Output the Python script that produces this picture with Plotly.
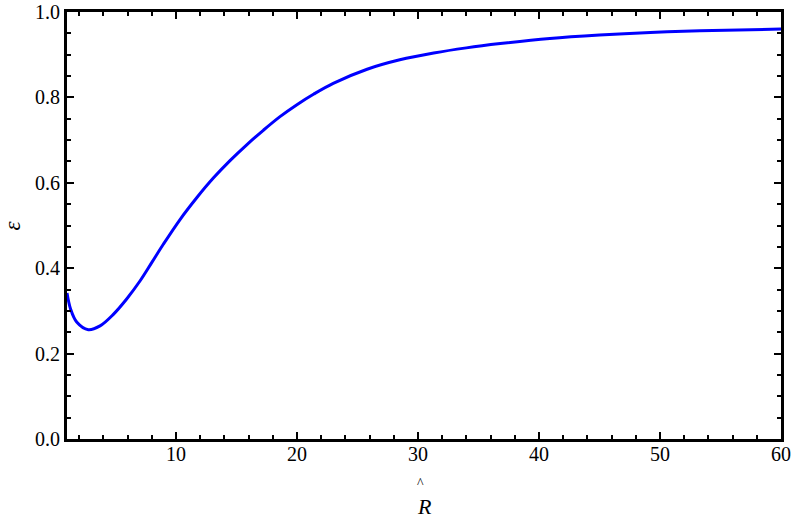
import plotly.graph_objects as go

# Data
r_hat = [1, 1.3, 1.8, 2.76, 3.73, 4.83, 5.93, 7.03, 8.0, 8.96, 10.34, 11.72,
         13.09, 14.47, 15.85, 17.22, 18.6, 20, 21.4, 23, 25.8, 28.5, 31.3, 34,
         36.8, 40.9, 45, 49.2, 53.3, 60]
epsilon = [0.342, 0.304, 0.274, 0.256, 0.265, 0.292, 0.328, 0.370, 0.413,
           0.456, 0.514, 0.565, 0.611, 0.652, 0.689, 0.723, 0.755, 0.783,
           0.808, 0.833, 0.866, 0.888, 0.904, 0.916, 0.926, 0.938, 0.946,
           0.952, 0.956, 0.960]

x_ticks = [10, 20, 30, 40, 50, 60]
y_ticks = [0.0, 0.2, 0.4, 0.6, 0.8, 1.0]
y_tick_labels = ["0.0", "0.2", "0.4", "0.6", "0.8", "1.0"]

font_family = "Liberation Serif"

fig = go.Figure()
fig.add_trace(go.Scatter(
    x=r_hat, y=epsilon, mode="lines",
    line=dict(color="#0000ff", width=3, shape="spline", smoothing=1.0),
    showlegend=False, hoverinfo="x+y",
))
# invisible copy on the mirrored axes so their ticks are drawn
fig.add_trace(go.Scatter(
    x=r_hat, y=epsilon, mode="lines", xaxis="x2", yaxis="y2",
    line=dict(color="rgba(0,0,0,0)", width=0),
    showlegend=False, hoverinfo="skip",
))

tick_common = dict(
    showline=True, linecolor="black", linewidth=3,
    ticks="inside", ticklen=7, tickwidth=2, tickcolor="black",
    showgrid=False, zeroline=False, automargin=False,
    tickfont=dict(family=font_family, size=20, color="black"),
)
x_minor = dict(ticks="inside", dtick=2, tick0=0, ticklen=4, tickwidth=2,
               tickcolor="black", showgrid=False)
y_minor = dict(ticks="inside", dtick=0.05, tick0=0, ticklen=4, tickwidth=2,
               tickcolor="black", showgrid=False)

fig.update_layout(
    width=793, height=522,
    margin=dict(l=67, r=12, t=12, b=83),
    paper_bgcolor="white", plot_bgcolor="white",
    xaxis=dict(range=[1, 60], tickvals=x_ticks, minor=x_minor,
               ticklabelstandoff=-5, **tick_common),
    yaxis=dict(range=[0, 1], tickvals=y_ticks, ticktext=y_tick_labels,
               minor=y_minor, **tick_common),
    xaxis2=dict(range=[1, 60], tickvals=x_ticks, minor=x_minor,
                overlaying="x", side="top", showticklabels=False,
                **tick_common),
    yaxis2=dict(range=[0, 1], tickvals=y_ticks, minor=y_minor,
                overlaying="y", side="right", showticklabels=False,
                **tick_common),
)

# y-axis label (epsilon), rotated
fig.add_annotation(
    x=-0.0763, y=0.499, xref="paper", yref="paper",
    xanchor="center", yanchor="middle", textangle=-90,
    text="<i>ε</i>", showarrow=False,
    font=dict(family=font_family, size=23, color="black"),
)
# x-axis label: R with a hat above it
fig.add_annotation(
    x=0.5, y=-0.159, xref="paper", yref="paper",
    xanchor="center", yanchor="middle",
    text="<i>R</i>", showarrow=False,
    font=dict(family=font_family, size=22, color="black"),
)
fig.add_annotation(
    x=0.4954, y=-0.105, xref="paper", yref="paper",
    xanchor="center", yanchor="middle",
    text="^", showarrow=False,
    font=dict(family=font_family, size=14, color="black"),
)

fig.write_html("out.html", config={"displayModeBar": False},
               post_script="document.body.style.margin='0px';")
